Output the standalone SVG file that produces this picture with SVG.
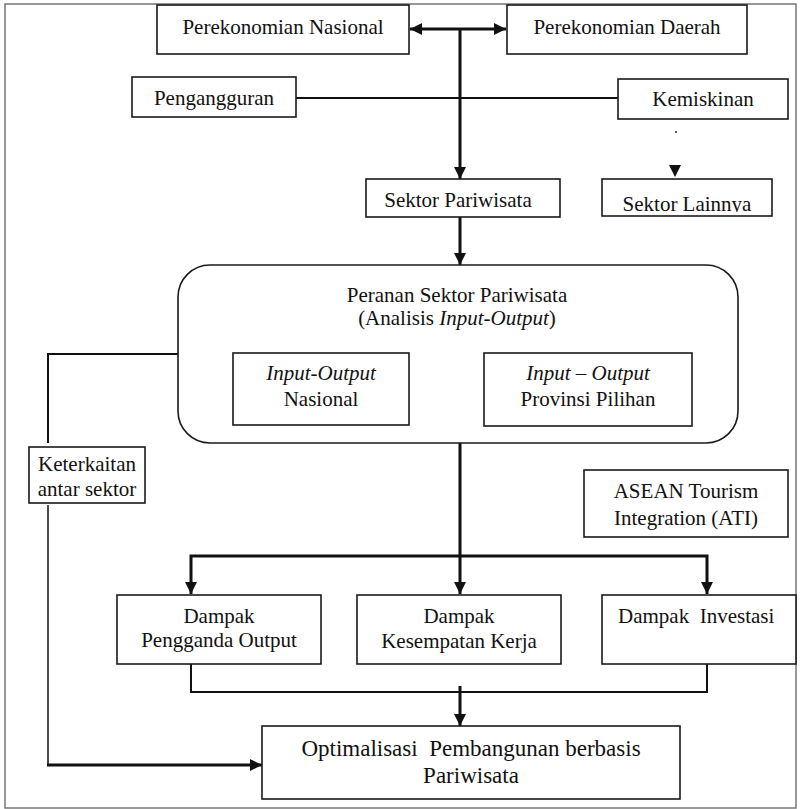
<svg xmlns="http://www.w3.org/2000/svg" width="800" height="809" viewBox="0 0 800 809">
  <style>
    .box { fill: #fff; stroke: #1a1a1a; stroke-width: 1.6; }
    .t { font-family: "Liberation Serif", "Times New Roman", serif; font-size: 21px; fill: #111; text-anchor: middle; }
    .big { font-size: 23px; }
    .it { font-style: italic; }
    .ln { fill: none; stroke: #111; stroke-width: 2; }
    .thick { fill: none; stroke: #111; stroke-width: 3; }
    .thin { fill: none; stroke: #111; stroke-width: 1.5; }
  </style>
  <defs>
    <marker id="arrow" viewBox="0 0 12 12" refX="12" refY="6" markerWidth="12" markerHeight="12" markerUnits="userSpaceOnUse" orient="auto-start-reverse">
      <path d="M0,0 L12,6 L0,12 z" fill="#111"/>
    </marker>
    <clipPath id="clipLainnya">
      <rect x="602" y="179" width="170" height="33"/>
    </clipPath>
  </defs>

  <rect width="800" height="809" fill="#fff"/>
  <!-- page frame -->
  <rect x="5" y="4" width="791" height="804" fill="none" stroke="#777" stroke-width="1.5"/>

  <!-- connectors -->
  <g id="connectors">
    <line class="thick" x1="410" y1="29" x2="506" y2="29" marker-start="url(#arrow)" marker-end="url(#arrow)"/>
    <line class="thick" x1="460" y1="29" x2="460" y2="179" marker-end="url(#arrow)"/>
    <line class="ln" x1="296" y1="98" x2="618" y2="98"/>
    <circle cx="676" cy="132" r="0.9" fill="#111"/>
    <polygon points="669,165 681,165 675,177" fill="#111"/>
    <line class="thick" x1="460" y1="217" x2="460" y2="265" marker-end="url(#arrow)"/>
    <polyline class="ln" points="178,354 48,354 48,443"/>
    <line class="thin" x1="48" y1="505" x2="48" y2="765"/>
    <line class="thick" x1="47" y1="765" x2="262" y2="765" marker-end="url(#arrow)"/>
    <line class="thick" x1="460" y1="443" x2="460" y2="594" marker-end="url(#arrow)"/>
    <path class="thick" d="M460,556 H191 V594" marker-end="url(#arrow)"/>
    <path class="thick" d="M460,556 H707 V594" marker-end="url(#arrow)"/>
    <path class="ln" d="M191,664 V692 H707 V664"/>
    <line class="thick" x1="460" y1="686" x2="460" y2="726" marker-end="url(#arrow)"/>
  </g>

  <g id="perekonomian-nasional">
    <rect class="box" x="157" y="5" width="252" height="49"/>
    <text class="t" x="283" y="34">Perekonomian Nasional</text>
  </g>
  <g id="perekonomian-daerah">
    <rect class="box" x="507" y="5" width="240" height="49"/>
    <text class="t" x="627" y="34">Perekonomian Daerah</text>
  </g>
  <g id="pengangguran">
    <rect class="box" x="132" y="77" width="164" height="40"/>
    <text class="t" x="214" y="105">Pengangguran</text>
  </g>
  <g id="kemiskinan">
    <rect class="box" x="618" y="79" width="170" height="40"/>
    <text class="t" x="703" y="106">Kemiskinan</text>
  </g>
  <g id="sektor-pariwisata">
    <rect class="box" x="366" y="179" width="194" height="38"/>
    <text class="t" x="458" y="207">Sektor Pariwisata</text>
  </g>
  <g id="sektor-lainnya">
    <rect class="box" x="602" y="179" width="170" height="37"/>
    <text class="t" x="687" y="211" clip-path="url(#clipLainnya)">Sektor Lainnya</text>
  </g>

  <g id="peranan-sektor">
    <rect class="box" x="178" y="265" width="560" height="178" rx="32" ry="32"/>
    <text class="t" x="457" y="302">Peranan Sektor Pariwisata</text>
    <text class="t" x="457" y="325">(Analisis <tspan class="it">Input-Output</tspan>)</text>
  </g>
  <g id="io-nasional">
    <rect class="box" x="233" y="353" width="176" height="72"/>
    <text class="t it" x="321" y="380">Input-Output</text>
    <text class="t" x="321" y="406">Nasional</text>
  </g>
  <g id="io-provinsi">
    <rect class="box" x="484" y="353" width="208" height="73"/>
    <text class="t it" x="588" y="380">Input – Output</text>
    <text class="t" x="588" y="406">Provinsi Pilihan</text>
  </g>

  <g id="keterkaitan">
    <rect class="box" x="29" y="447" width="116" height="56" stroke-width="2"/>
    <text class="t" x="87" y="471">Keterkaitan</text>
    <text class="t" x="87" y="496">antar sektor</text>
  </g>
  <g id="asean-tourism">
    <rect class="box" x="584" y="470" width="204" height="67"/>
    <text class="t" x="686" y="498">ASEAN Tourism</text>
    <text class="t" x="686" y="525">Integration (ATI)</text>
  </g>

  <g id="dampak-output">
    <rect class="box" x="117" y="595" width="204" height="69"/>
    <text class="t" x="219" y="623">Dampak</text>
    <text class="t" x="219" y="647">Pengganda Output</text>
  </g>
  <g id="dampak-kerja">
    <rect class="box" x="357" y="595" width="204" height="69"/>
    <text class="t" x="459" y="623">Dampak</text>
    <text class="t" x="459" y="648">Kesempatan Kerja</text>
  </g>
  <g id="dampak-investasi">
    <rect class="box" x="602" y="595" width="194" height="69"/>
    <text class="t" x="618" y="623" xml:space="preserve" style="text-anchor:start">Dampak  Investasi</text>
  </g>

  <g id="optimalisasi">
    <rect class="box" x="262" y="726" width="418" height="73"/>
    <text class="t big" x="471" y="756" xml:space="preserve">Optimalisasi  Pembangunan berbasis</text>
    <text class="t big" x="471" y="783">Pariwisata</text>
  </g>
</svg>
